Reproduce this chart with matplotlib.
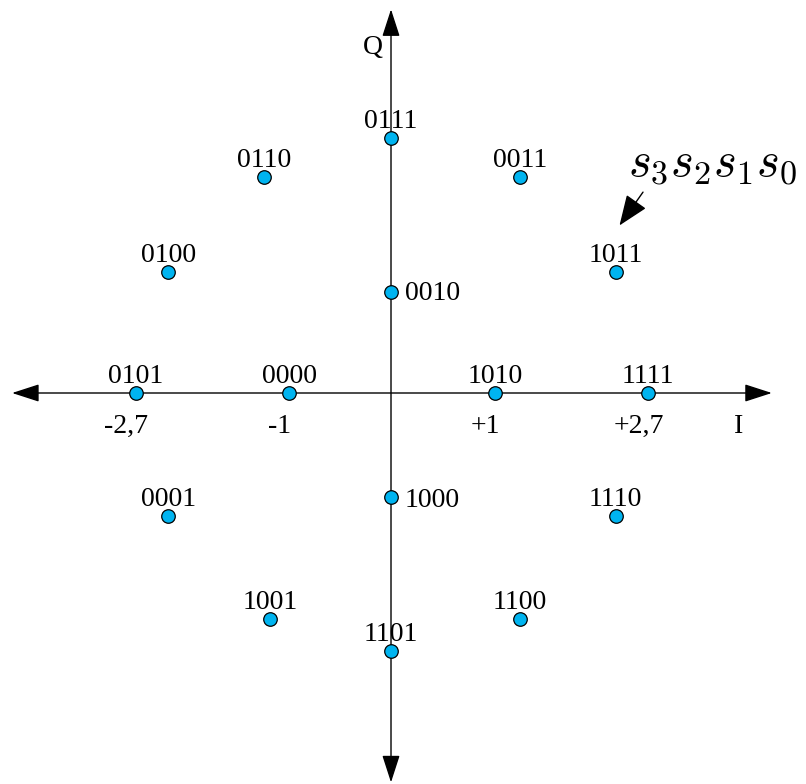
import matplotlib
matplotlib.use("Agg")
import matplotlib.pyplot as plt

plt.rcParams["font.family"] = ["Liberation Serif", "DejaVu Serif"]
plt.rcParams["mathtext.fontset"] = "cm"

# constellation points (I, Q)
labels = ["0111", "0110", "0011", "0100", "1011", "0010",
          "0101", "0000", "1010", "1111",
          "0001", "1110", "1000", "1001", "1100", "1101"]
pts_i = [0.0, -1.33, 1.355, -2.34, 2.36, 0.0,
         -2.68, -1.07, 1.09, 2.70,
         -2.34, 2.36, 0.0, -1.27, 1.355, 0.0]
pts_q = [2.68, 2.27, 2.27, 1.27, 1.27, 1.06,
         0.0, 0.0, 0.0, 0.0,
         -1.29, -1.29, -1.09, -2.37, -2.37, -2.71]
# labels placed to the right of the point instead of above it
side_labels = ["0010", "1000"]

tick_pos = [-2.68, -1.07, 1.09, 2.70]
tick_text = ["-2,7", "-1", "+1", "+2,7"]

fig = plt.figure(figsize=(8.06, 7.84), dpi=100)
ax = fig.add_axes([0, 0, 1, 1])
ax.set_xlim(-4.107, 4.359)
ax.set_ylim(-4.107, 4.128)
ax.axis("off")

arrow = dict(arrowstyle="<|-|>,head_length=1.7,head_width=0.55",
             color="black", lw=1.0, shrinkA=0, shrinkB=0, mutation_scale=10)
ax.annotate("", xy=(4.0, 0), xytext=(-3.98, 0), arrowprops=arrow)
ax.annotate("", xy=(0, 4.03), xytext=(0, -4.09), arrowprops=arrow)

ax.scatter(pts_i, pts_q, s=95, color="#00b4f0", edgecolor="black",
           linewidth=0.9, zorder=3)

fs = 20
for lab, x, y in zip(labels, pts_i, pts_q):
    if lab in side_labels:
        ax.annotate(lab, (x, y), xytext=(10, -3 if y < 0 else -1),
                    textcoords="offset points", ha="left", va="center", fontsize=fs)
    else:
        ax.annotate(lab, (x, y), xytext=(0, 7), textcoords="offset points",
                    ha="center", va="baseline", fontsize=fs)

for x, t in zip(tick_pos, tick_text):
    ax.annotate(t, (x, 0), xytext=(-7, -29), textcoords="offset points",
                ha="center", va="baseline", fontsize=fs)

ax.annotate("I", (3.65, 0), xytext=(0, -29), textcoords="offset points",
            ha="center", va="baseline", fontsize=fs)
ax.annotate("Q", (-0.19, 3.63), ha="center", va="center", fontsize=fs)

ax.text(2.49, 2.29, r"$s_3s_2s_1s_0$", ha="left", va="baseline", fontsize=35)
ax.annotate("", xy=(2.40, 1.76), xytext=(2.647, 2.11),
            arrowprops=dict(arrowstyle="-|>,head_length=1.9,head_width=0.75",
                            color="black", lw=1.0, shrinkA=0, shrinkB=0,
                            mutation_scale=10))

fig.savefig("out.png", dpi=100)
